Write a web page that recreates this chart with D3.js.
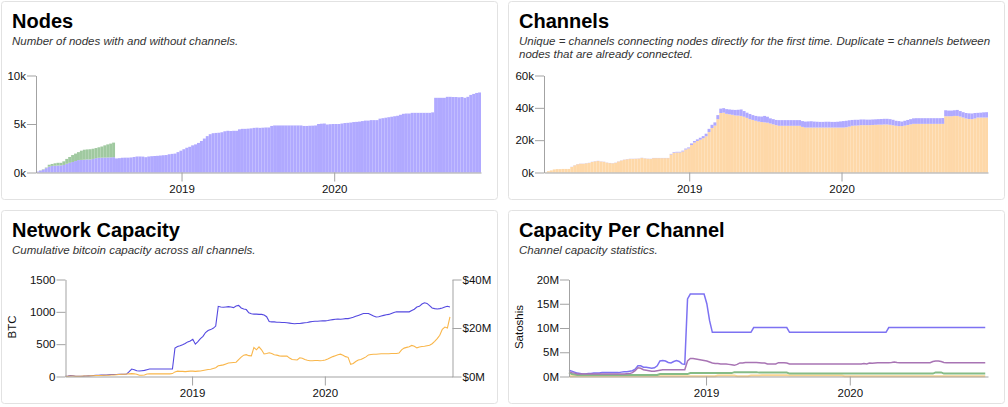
<!DOCTYPE html>
<html>
<meta charset="utf-8">
<script src="https://cdnjs.cloudflare.com/ajax/libs/d3/7.8.5/d3.min.js"></script>
<style>
body { margin: 0; background: #fff; }
svg { display: block; font-family: "Liberation Sans", Arial, sans-serif; }
.title { font-size: 20px; font-weight: bold; fill: #000; }
.sub { font-size: 11.5px; font-style: italic; fill: #333; }
.axis text { font-size: 11.5px; fill: #111; font-family: "Liberation Sans", Arial, sans-serif; }
.axis line, .axis path { stroke: #a3a3a3; }
.ylabel { font-size: 11.5px; fill: #111; }
</style>
<body>
<script>

// one value per week from the start date
var startDate = new Date(Date.UTC(2018, 0, 18));
var endDate = new Date(Date.UTC(2020, 11, 17));
var yearTicks = [new Date(Date.UTC(2019, 0, 1)), new Date(Date.UTC(2020, 0, 1))];

var nodesWith = [
  100,200,300,450,600,680,700,720,730,780,
  900,1000,1080,1180,1280,1300,1320,1350,1340,1400,
  1480,1520,1530,1540,1550,1560,1580,1450,1480,1520,
  1530,1530,1550,1600,1650,1650,1640,1580,1650,1680,
  1700,1720,1750,1780,1800,1880,1920,1950,2100,2250,
  2400,2550,2650,2800,2900,3050,3250,3500,3750,3950,
  4050,4080,4100,4150,4250,4300,4280,4300,4300,4450,
  4500,4500,4520,4550,4600,4620,4600,4620,4640,4640,
  4800,4850,4850,4850,4850,4850,4850,4850,4850,4850,
  4850,4800,4800,4820,4830,4850,5000,5030,5050,4950,
  4980,5000,5000,5000,5050,5100,5120,5150,5200,5220,
  5250,5300,5350,5350,5400,5400,5400,5550,5600,5650,
  5700,5750,5800,5850,5950,6050,6080,6080,6150,6150,
  6150,6150,6150,6150,6150,6200,7700,7700,7700,7700,
  7800,7800,7780,7780,7750,7780,7700,7800,8000,8100,8200,8250];
// only the first weeks have nodes without channels
var nodesWithout = [
  0,20,40,60,200,200,250,280,270,370,
  500,600,720,770,820,950,1030,1030,1060,1050,
  1040,1080,1150,1260,1350,1420,1500];

var channelsUnique = [
  200,800,1300,1900,2100,2100,2200,2200,2200,3400,
  4400,5100,5400,5400,5700,5900,6500,6900,7100,6800,
  6600,6100,5800,5700,6000,6800,7400,7900,8200,8400,
  8400,8500,8600,9000,8700,8500,8400,8900,8900,8900,
  8900,8900,8900,11200,12200,12400,12400,13000,14200,14900,
  17000,18500,19500,20300,21200,22400,25000,27500,29000,33000,
  36800,37000,36300,36000,35700,35300,35200,35000,34500,33800,
  33000,32500,32000,31500,31200,31000,30800,30300,29800,29300,
  28900,28900,28900,28900,28900,28900,28900,28900,28200,27800,
  27800,27800,27800,27800,27800,27800,27800,27800,27800,27800,
  27800,27800,27800,28000,28400,28900,29000,29100,29300,29300,
  29300,29300,29400,29500,29600,29600,29700,29700,29500,29200,
  28900,28700,28700,29000,29400,29800,30100,30100,30100,30100,
  30100,30100,30100,30100,30100,30100,30100,34800,34800,34800,
  35000,35000,34600,34000,33400,33100,33000,33400,34000,34000,34000,34000];
var channelsDuplicate = [
  0,0,0,0,0,0,0,0,0,100,
  100,100,100,100,100,100,100,100,100,100,
  100,100,100,100,100,100,100,100,100,100,
  100,100,100,100,100,100,100,100,100,100,
  100,100,100,300,400,400,400,500,600,600,
  1000,1000,1000,1200,1300,1600,2000,2000,2000,2500,
  2700,2800,2900,3000,3100,3400,3600,4000,3500,3200,
  3200,3000,3000,3200,3400,4000,3700,3200,3200,3200,
  3500,3500,3500,3500,3500,3500,3500,3500,3600,3700,
  3800,3900,3700,3600,3500,3500,3600,3600,3500,3500,
  3600,3800,4000,4000,3900,3600,3600,3500,3500,3500,
  3400,3400,3400,3400,3400,3500,3500,3500,3500,3400,
  3100,3100,2800,3000,3100,3200,3400,3500,3500,3500,
  3500,3500,3500,3500,3500,3500,3600,3700,3500,3500,
  3500,3700,3400,3300,3400,3500,3500,3400,2900,3000,3200,3300];

var capacityBtc = [
  5,8,15,12,5,3,5,6,8,10,
  12,15,18,20,22,22,24,28,30,30,
  32,34,35,35,38,75,115,105,90,85,
  90,95,105,115,115,115,115,115,115,115,
  115,115,115,440,465,475,490,510,535,550,
  575,500,540,585,620,680,710,725,745,780,
  1085,1075,1070,1075,1080,1075,1065,1090,1100,1060,
  1045,1035,985,970,965,965,960,960,950,925,
  850,845,845,840,840,835,835,830,825,820,
  815,820,820,825,830,835,845,850,855,855,
  858,860,860,865,875,880,885,890,885,890,
  895,895,905,915,930,945,960,975,975,975,
  955,935,920,925,935,945,955,960,975,990,
  1000,1000,1000,1000,1000,1000,1020,1040,1075,1085,
  1120,1140,1130,1095,1060,1050,1045,1050,1060,1075,1085,1075];
var capacityUsd = [
  0.1,0.1,0.2,0.2,0.1,0.1,0.1,0.2,0.2,0.2,
  0.3,0.3,0.4,0.4,0.4,0.5,0.5,0.5,0.6,0.6,
  0.7,0.8,0.9,0.9,1.0,1.1,1.2,1.1,0.9,0.5,
  0.5,0.6,1.0,1.1,1.1,1.1,1.1,1.1,1.1,1.1,
  1.1,1.1,1.2,1.9,2.2,2.1,2.1,2.0,2.1,2.2,
  2.2,2.1,2.2,2.3,2.5,2.7,2.9,3.0,3.3,3.6,
  4.4,4.6,4.8,5.2,5.6,5.7,5.8,5.9,7.0,8.0,
  8.8,9.0,8.6,8.5,12,11,12.2,11.0,9.3,9.5,
  9.8,9.5,9.0,8.8,8.5,8.4,8.4,8.4,7.6,7.0,
  6.9,6.8,7.7,7.5,7.0,6.7,6.5,6.5,6.6,6.6,
  6.5,6.6,6.8,7.2,7.7,8.2,8.6,9.0,9.2,8.8,
  8.2,7.9,5.0,5.4,6.2,6.8,7.0,7.5,8.1,8.9,
  9.1,9.2,9.2,9.3,9.4,9.4,9.4,9.4,9.5,9.5,
  9.5,9.7,11.0,11.7,12.0,12.3,12.8,12.5,11.8,12.2,
  12.4,12.5,12.7,12.9,13.5,14.5,15.6,17.0,19.5,20.4,20,24.6];

var perChannelMax = [
  1.3,1.1,0.9,0.7,0.6,0.5,0.5,0.6,0.6,0.7,
  0.7,0.7,0.8,0.8,0.8,0.8,0.8,0.8,0.8,0.9,
  1.0,1.0,1.1,1.2,1.5,2.2,2.2,1.9,1.9,1.8,
  1.7,1.8,2.2,3.2,3.3,3.2,2.9,2.8,3.1,3.3,
  3.1,2.6,2.5,16,17,17,17,17,17,17,
  15,11.5,9.1,9.1,9.1,9.1,9.1,9.1,9.1,9.1,
  9.1,9.1,9.1,9.1,9.1,9.1,9.1,10.1,10.1,10.1,
  10.1,10.1,10.1,10.1,10.1,10.1,10.1,10.1,10.1,10.1,
  9.1,9.1,9.1,9.1,9.1,9.1,9.1,9.1,9.1,9.1,
  9.1,9.1,9.1,9.1,9.1,9.1,9.1,9.1,9.1,9.1,
  9.1,9.1,9.1,9.1,9.1,9.1,9.1,9.1,9.1,9.1,
  9.1,9.1,9.1,9.1,9.1,9.1,10.1,10.1,10.1,10.1,
  10.1,10.1,10.1,10.1,10.1,10.1,10.1,10.1,10.1,10.1,
  10.1,10.1,10.1,10.1,10.1,10.1,10.1,10.1,10.1,10.1,
  10.1,10.1,10.1,10.1,10.1,10.1,10.1,10.1,10.1,10.1,10.1,10.1];
var perChannelAvg = [
  1.0,0.8,0.7,0.5,0.5,0.5,0.5,0.5,0.5,0.5,
  0.5,0.5,0.5,0.5,0.5,0.5,0.5,0.5,0.5,0.5,
  0.5,0.55,0.6,0.8,1.2,1.8,1.7,1.4,1.3,1.2,
  1.1,1.1,1.2,1.3,1.4,1.4,1.4,1.4,1.4,1.4,
  1.4,1.4,1.4,3.2,3.7,3.7,3.6,3.5,3.4,3.3,
  3.2,3.0,2.8,2.7,2.7,2.6,2.6,2.6,2.5,2.4,
  2.3,2.5,2.8,2.8,2.9,2.9,2.9,2.9,2.9,2.85,
  2.8,2.8,2.6,2.6,2.6,2.6,2.85,2.85,2.85,2.8,
  2.6,2.6,2.6,2.6,2.6,2.6,2.6,2.6,2.6,2.6,
  2.6,2.6,2.6,2.6,2.6,2.6,2.6,2.6,2.6,2.6,
  2.6,2.6,2.6,2.6,2.6,2.6,2.6,2.7,2.6,2.8,
  2.75,2.8,2.85,2.85,2.85,2.85,2.85,2.9,3.0,2.9,
  2.85,2.85,2.85,2.85,2.85,2.85,2.85,2.85,2.85,2.85,
  2.85,2.85,3.1,3.2,3.2,3.1,2.9,2.85,2.85,2.85,
  2.85,2.85,2.85,2.85,2.85,2.85,2.85,2.85,2.85,2.85,2.85,2.85];
var perChannelMid = [
  0.8,0.5,0.4,0.3,0.3,0.3,0.3,0.3,0.3,0.3,
  0.3,0.3,0.3,0.3,0.3,0.3,0.3,0.3,0.3,0.3,
  0.3,0.3,0.3,0.3,0.3,0.3,0.3,0.3,0.3,0.3,
  0.3,0.3,0.3,0.5,0.5,0.5,0.5,0.5,0.5,0.5,
  0.5,0.5,0.5,0.5,0.7,0.7,0.7,0.7,0.7,0.7,
  0.7,0.7,0.7,0.7,0.7,0.7,0.7,0.7,0.7,0.7,
  0.9,0.9,0.9,0.9,0.9,0.9,0.9,0.9,0.9,0.8,
  0.8,0.8,0.8,0.8,0.8,0.8,0.8,0.8,0.8,0.8,
  0.6,0.6,0.6,0.6,0.6,0.6,0.6,0.6,0.6,0.6,
  0.6,0.6,0.6,0.6,0.6,0.6,0.6,0.6,0.6,0.6,
  0.6,0.6,0.6,0.6,0.6,0.6,0.6,0.6,0.6,0.6,
  0.6,0.6,0.6,0.6,0.6,0.6,0.6,0.6,0.6,0.6,
  0.6,0.6,0.6,0.6,0.6,0.6,0.6,0.6,0.6,0.6,
  0.6,0.6,0.6,0.85,0.85,0.85,0.6,0.6,0.6,0.6,
  0.6,0.6,0.6,0.6,0.6,0.6,0.6,0.6,0.6,0.6,0.6,0.6];
var perChannelLow = [
  0.05,0.05,0.05,0.05,0.05,0.05,0.05,0.05,0.05,0.05,
  0.05,0.05,0.05,0.05,0.05,0.05,0.05,0.05,0.05,0.05,
  0.05,0.05,0.05,0.05,0.05,0.05,0.05,0.05,0.05,0.05,
  0.05,0.05,0.05,0.05,0.05,0.05,0.05,0.05,0.05,0.05,
  0.05,0.05,0.05,0.05,0.05,0.05,0.05,0.05,0.05,0.05,
  0.05,0.05,0.05,0.05,0.2,0.2,0.2,0.2,0.2,0.2,
  0.2,0.05,0.05,0.05,0.05,0.05,0.2,0.2,0.2,0.2,
  0.25,0.25,0.25,0.25,0.25,0.25,0.25,0.25,0.25,0.25,
  0.2,0.2,0.2,0.2,0.2,0.2,0.2,0.2,0.2,0.2,
  0.2,0.2,0.2,0.2,0.2,0.2,0.2,0.2,0.2,0.2,
  0.05,0.05,0.05,0.05,0.05,0.05,0.05,0.05,0.05,0.05,
  0.05,0.05,0.05,0.05,0.05,0.05,0.05,0.05,0.05,0.05,
  0.05,0.05,0.05,0.05,0.05,0.05,0.05,0.05,0.05,0.05,
  0.05,0.05,0.05,0.05,0.05,0.05,0.05,0.05,0.05,0.05,
  0.05,0.05,0.05,0.05,0.05,0.05,0.05,0.05,0.05,0.05,0.05,0.05];

var weeks = d3.range(nodesWith.length).map(function(i) { return d3.utcWeek.offset(startDate, i); });

var svg = d3.select("body").append("svg")
  .attr("width", 1008)
  .attr("height", 407);

function fmtK(d) { return (d / 1000) + "k"; }
function fmtM(d) { return d + "M"; }
function fmtUsd(d) { return "$" + d + "M"; }

function card(x, y, w, h, title, subs) {
  var g = svg.append("g");
  g.append("rect")
    .attr("x", x + 0.5).attr("y", y + 0.5)
    .attr("width", w).attr("height", h)
    .attr("rx", 3)
    .attr("fill", "#fff")
    .attr("stroke", "#e2e2e2");
  g.append("text").attr("class", "title").attr("x", x + 11).attr("y", y + 27).text(title);
  subs.forEach(function(s, i) {
    g.append("text").attr("class", "sub").attr("x", x + 11).attr("y", y + 44 + i * 13).text(s);
  });
}

function frame(left, right, top, bottom, yMax, yTicks, yFmt) {
  var x = d3.scaleUtc().domain([startDate, endDate]).range([left, right]);
  var y = d3.scaleLinear().domain([0, yMax]).range([bottom, top]);
  return { x: x, y: y, left: left, right: right, top: top, bottom: bottom, yTicks: yTicks, yFmt: yFmt };
}

function drawAxes(f) {
  svg.append("g").attr("class", "axis")
    .attr("transform", "translate(0," + f.bottom + ")")
    .call(d3.axisBottom(f.x).tickValues(yearTicks).tickFormat(d3.utcFormat("%Y")).tickSize(9).tickSizeOuter(0).tickPadding(3));
  svg.append("g").attr("class", "axis")
    .attr("transform", "translate(" + f.left + ",0)")
    .call(d3.axisLeft(f.y).tickValues(f.yTicks).tickFormat(f.yFmt).tickSize(9).tickSizeOuter(0).tickPadding(1));
}

function stacked(f, lower, upper, colors) {
  var rows = weeks.map(function(d, i) { return { date: d, a: lower[i] || 0, b: upper[i] || 0 }; });
  var series = d3.stack().keys(["a", "b"])(rows);
  var step = f.x(weeks[1]) - f.x(weeks[0]);
  svg.selectAll(null).data(series).enter().append("g")
    .attr("fill", function(d, i) { return colors[i]; })
    .selectAll("rect").data(function(d) { return d; }).enter().append("rect")
      .attr("x", function(d) { return f.x(d.data.date); })
      .attr("y", function(d) { return f.y(d[1]); })
      .attr("width", step)
      .attr("height", function(d) { return f.y(d[0]) - f.y(d[1]); });
}

function drawLine(f, yScale, values, color, width) {
  var line = d3.line()
    .x(function(d, i) { return f.x(weeks[i]); })
    .y(function(d) { return yScale(d); });
  svg.append("path")
    .datum(values)
    .attr("fill", "none")
    .attr("stroke", color)
    .attr("stroke-width", width)
    .attr("d", line);
}

function yLabel(x, y, text) {
  svg.append("text").attr("class", "ylabel")
    .attr("transform", "translate(" + x + "," + y + ") rotate(-90)")
    .attr("text-anchor", "middle")
    .text(text);
}

// Nodes
card(1, 1, 496, 198, "Nodes", ["Number of nodes with and without channels."]);
var f1 = frame(36, 481, 75.5, 172.5, 10000, [0, 5000, 10000], fmtK);
stacked(f1, nodesWith, nodesWithout, ["#b0a9ff", "#a0c9a0"]);
drawAxes(f1);

// Channels
card(508, 1, 496, 198, "Channels", [
  "Unique = channels connecting nodes directly for the first time. Duplicate = channels between",
  "nodes that are already connected."]);
var f2 = frame(544, 988, 75.5, 172.5, 60000, [0, 20000, 40000, 60000], fmtK);
stacked(f2, channelsUnique, channelsDuplicate, ["#fed8a8", "#b0a9ff"]);
drawAxes(f2);

// Network Capacity
card(1, 210, 496, 193, "Network Capacity", ["Cumulative bitcoin capacity across all channels."]);
var f3 = frame(65.5, 452.5, 279.5, 376.5, 1500, [0, 500, 1000, 1500], d3.format("d"));
var usdY = d3.scaleLinear().domain([0, 40]).range([376.5, 279.5]);
drawLine(f3, f3.y, capacityBtc, "#5449e0", 1.1);
drawLine(f3, usdY, capacityUsd, "#f9b64a", 1.1);
drawAxes(f3);
svg.append("g").attr("class", "axis")
  .attr("transform", "translate(452.5,0)")
  .call(d3.axisRight(usdY).tickValues([0, 20, 40]).tickFormat(fmtUsd).tickSize(9).tickSizeOuter(0).tickPadding(1));
yLabel(16, 327, "BTC");

// Capacity Per Channel
card(508, 210, 496, 193, "Capacity Per Channel", ["Channel capacity statistics."]);
var f4 = frame(569, 988, 279.5, 376.5, 20, [0, 5, 10, 15, 20], fmtM);
drawLine(f4, f4.y, perChannelMax, "#7d72f2", 1.5);
drawLine(f4, f4.y, perChannelLow, "#f9d490", 2);
drawLine(f4, f4.y, perChannelMid, "#86bc86", 2);
drawLine(f4, f4.y, perChannelAvg, "#a874b4", 1.5);
drawAxes(f4);
yLabel(523, 327, "Satoshis");

</script>
</body>
</html>
